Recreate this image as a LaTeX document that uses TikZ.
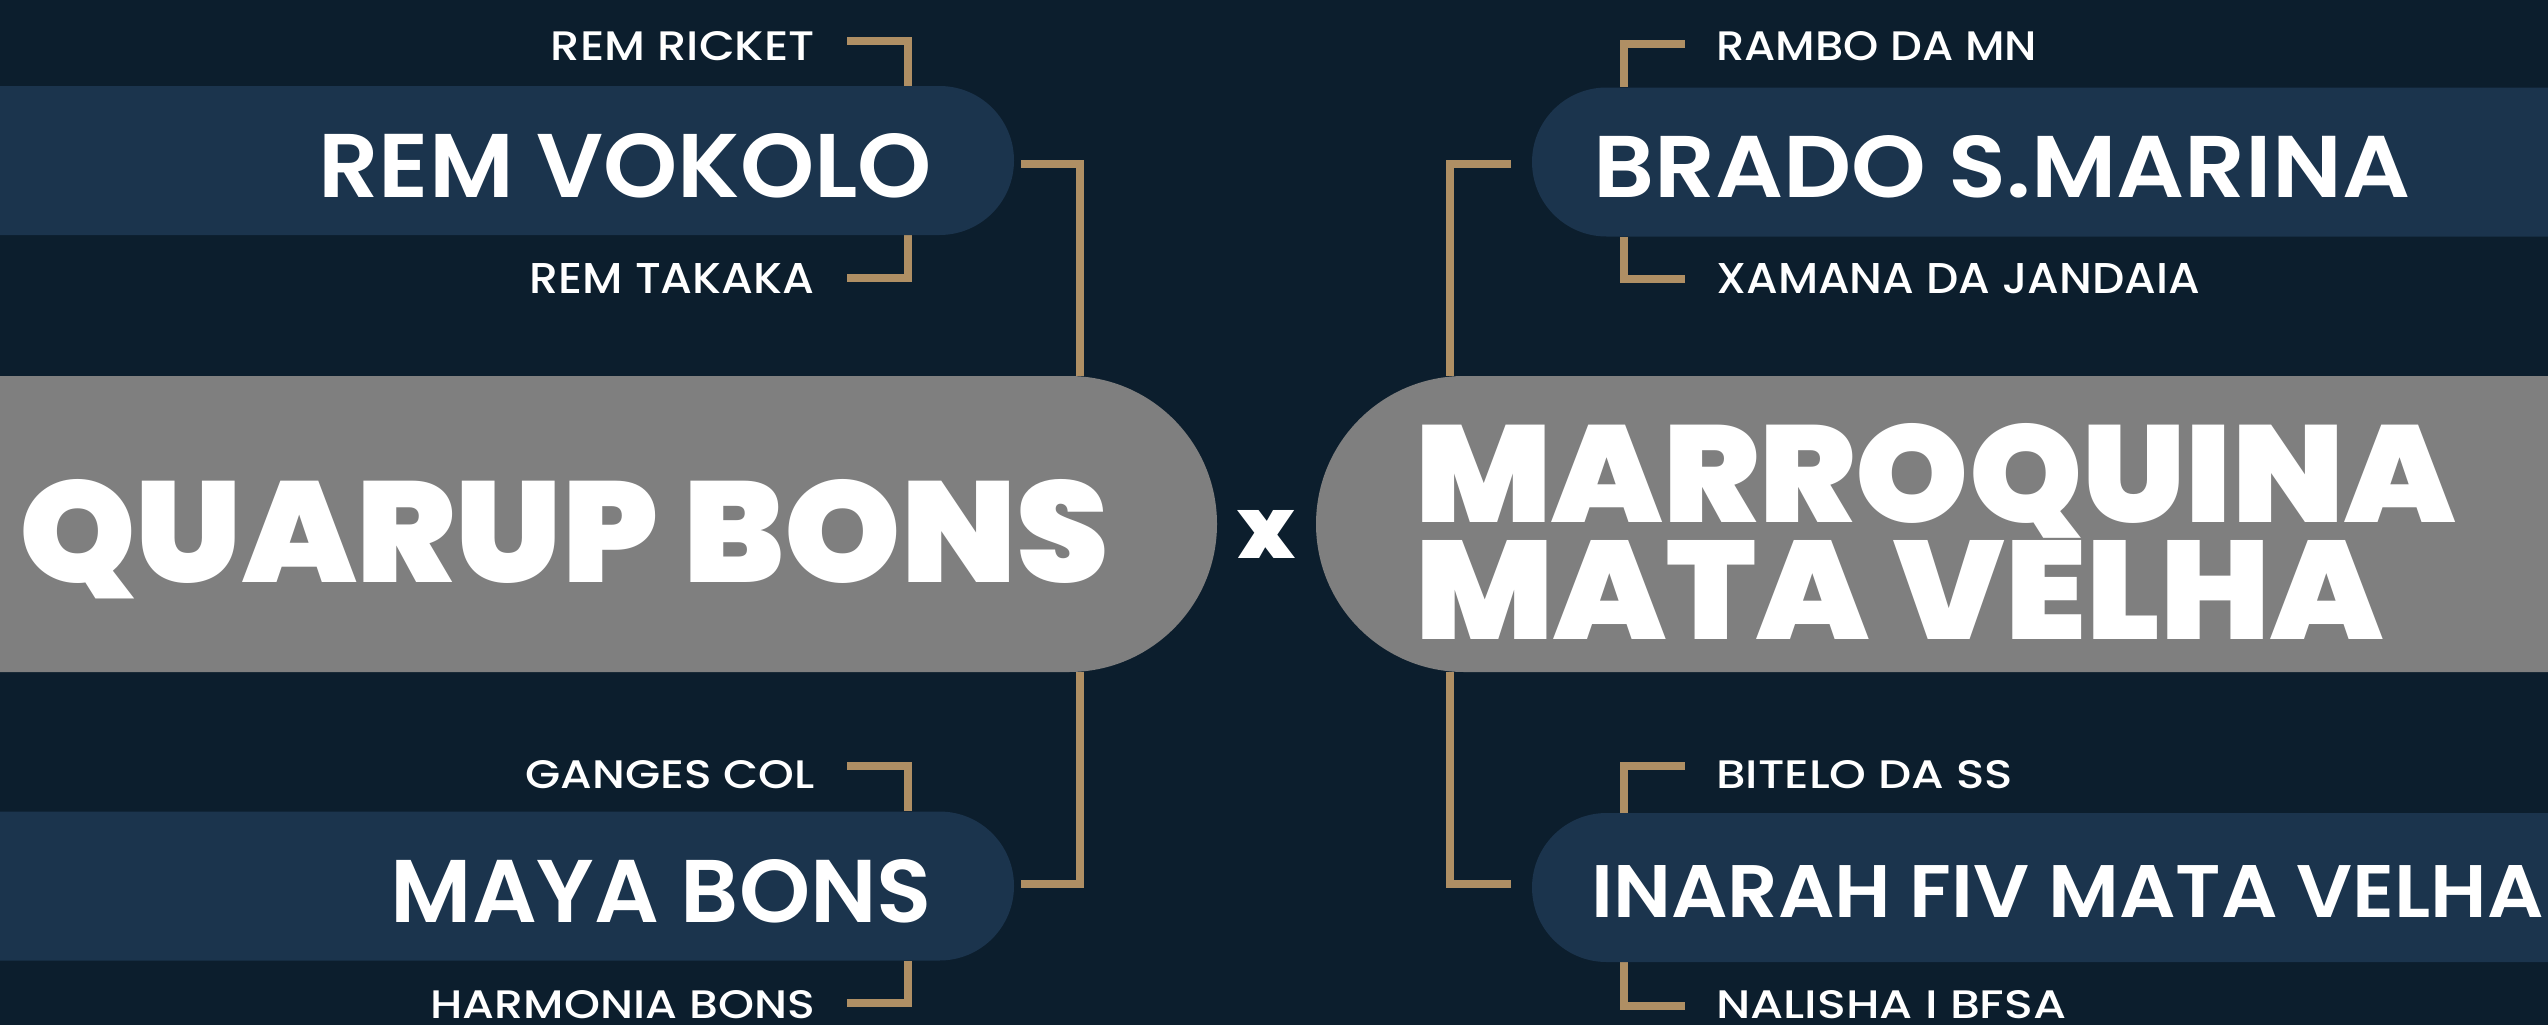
\documentclass[tikz,border=0pt]{standalone}
\usepackage{fontspec}
\usepackage{graphicx}
\setmainfont{Poppins}
\IfFontExistsTF{Poppins Black}{\newfontfamily\fblack{Poppins Black}}{\newfontfamily\fblackx{Poppins}\newcommand\fblack{\fblackx\bfseries}}
\IfFontExistsTF{Poppins SemiBold}{\newfontfamily\fsemi{Poppins SemiBold}}{\newfontfamily\fsemix{Poppins}\newcommand\fsemi{\fsemix\bfseries}}
\IfFontExistsTF{Poppins Medium}{\newfontfamily\fmed{Poppins Medium}}{\newfontfamily\fmed{Poppins}}
\newcommand\fitt[3]{\raisebox{0pt}[\height][0pt]{\resizebox{#1pt}{#2pt}{#3}}}
\definecolor{bgc}{HTML}{0C1E2D}
\definecolor{pillc}{HTML}{1B344D}
\definecolor{grayc}{HTML}{7F7F7F}
\definecolor{goldc}{HTML}{AF8F64}
\pgfdeclarelayer{back}
\pgfdeclarelayer{lines}
\pgfsetlayers{back,lines,main}
\tikzset{
  pill/.style={fill=pillc, inner sep=0pt, rounded corners=74.5pt, minimum height=149pt},
  bigpill/.style={fill=grayc, inner sep=0pt, rounded corners=148pt, minimum height=296pt},
  lbl/.style={text=white, inner sep=0pt, font=\fmed},
  nm/.style={text=white, inner sep=0pt, font=\fsemi},
  bigtxt/.style={text=white, inner sep=0pt, font=\fblack},
  goldline/.style={draw=goldc, line width=8pt, line join=miter}
}
\begin{document}
\begin{tikzpicture}[x=1pt,y=-1pt]
\useasboundingbox (0,0) rectangle (2548,1025);
\clip (0,0) rectangle (2548,1025);
\begin{pgfonlayer}{back}
\fill[bgc] (0,0) rectangle (2548,1025);
\end{pgfonlayer}

% pills
\node[pill, minimum width=1314pt] (vokolo) at (357,160.5) {};
\node[pill, minimum width=1314pt] (maya) at (357,886) {};
\node[pill, minimum width=1316pt] (brado) at (2190,162) {};
\node[pill, minimum width=1316pt] (inarah) at (2190,887.5) {};
\node[bigpill, minimum width=1517pt] (quarup) at (458.5,524) {};
\node[bigpill, minimum width=1532pt] (marroq) at (2082,524) {};

% texts
\node[lbl, anchor=base east] (ricket) at (815,61) {\fitt{264}{29}{REM RICKET}};
\node[nm, anchor=base east] (tvokolo) at (932,197) {\fitt{613}{64}{REM VOKOLO}};
\node[lbl, anchor=base east] (takaka) at (815,293) {\fitt{285}{30}{REM TAKAKA}};
\node[bigtxt, anchor=base west] (tquarup) at (19,582) {\fitt{1090}{103}{QUARUP BONS}};
\node[bigtxt] (vs) at (1266,534) {\fitt{58}{48}{x}};
\node[bigtxt, anchor=base west] (tmarroq1) at (1415,522) {\fitt{1039}{99}{MARROQUINA}};
\node[bigtxt, anchor=base west] (tmarroq2) at (1415,639) {\fitt{967}{99}{MATA VELHA}};
\node[nm, anchor=base west] (tbrado) at (1593,197) {\fitt{817}{62}{BRADO S.MARINA}};
\node[lbl, anchor=base west] (rambo) at (1716,61) {\fitt{321}{29}{RAMBO DA MN}};
\node[lbl, anchor=base west] (xamana) at (1716,293) {\fitt{484}{30}{XAMANA DA JANDAIA}};
\node[lbl, anchor=base east] (ganges) at (815,788) {\fitt{289}{28}{GANGES COL}};
\node[nm, anchor=base east] (tmaya) at (932,922) {\fitt{541}{63}{MAYA BONS}};
\node[lbl, anchor=base east] (harmonia) at (815,1018) {\fitt{384}{28}{HARMONIA BONS}};
\node[lbl, anchor=base west] (bitelo) at (1716,788) {\fitt{297}{28}{BITELO DA SS}};
\node[nm, anchor=base west] (tinarah) at (1591,917) {\fitt{952}{52}{INARAH FIV MATA VELHA}};
\node[lbl, anchor=base west] (nalisha) at (1716,1018) {\fitt{350}{28}{NALISHA I BFSA}};

% connector ends
\coordinate (kRicket) at (847,41);
\coordinate (kTakaka) at (847,278);
\coordinate (kGanges) at (847,766);
\coordinate (kHarm) at (847,1003);
\coordinate (kRambo) at (1685,44);
\coordinate (kXamana) at (1685,279);
\coordinate (kBitelo) at (1685,766);
\coordinate (kNalisha) at (1685,1006);
\coordinate (jVok) at (1021,164);
\coordinate (jMaya) at (1021,884);
\coordinate (jBrado) at (1511,164);
\coordinate (jInarah) at (1511,884);

\begin{pgfonlayer}{lines}
\draw[goldline] (kRicket) -| (908,0 |- vokolo.north);
\draw[goldline] (kTakaka) -| (908,0 |- vokolo.south);
\draw[goldline] (kGanges) -| (908,0 |- maya.north);
\draw[goldline] (kHarm) -| (908,0 |- maya.south);
\draw[goldline] (kRambo) -| (1624,0 |- brado.north);
\draw[goldline] (kXamana) -| (1624,0 |- brado.south);
\draw[goldline] (kBitelo) -| (1624,0 |- inarah.north);
\draw[goldline] (kNalisha) -| (1624,0 |- inarah.south);
\draw[goldline] (jVok) -| (1080,0 |- quarup.north);
\draw[goldline] (jMaya) -| (1080,0 |- quarup.south);
\draw[goldline] (jBrado) -| (1450,0 |- marroq.north);
\draw[goldline] (jInarah) -| (1450,0 |- marroq.south);
\end{pgfonlayer}
\end{tikzpicture}
\end{document}
